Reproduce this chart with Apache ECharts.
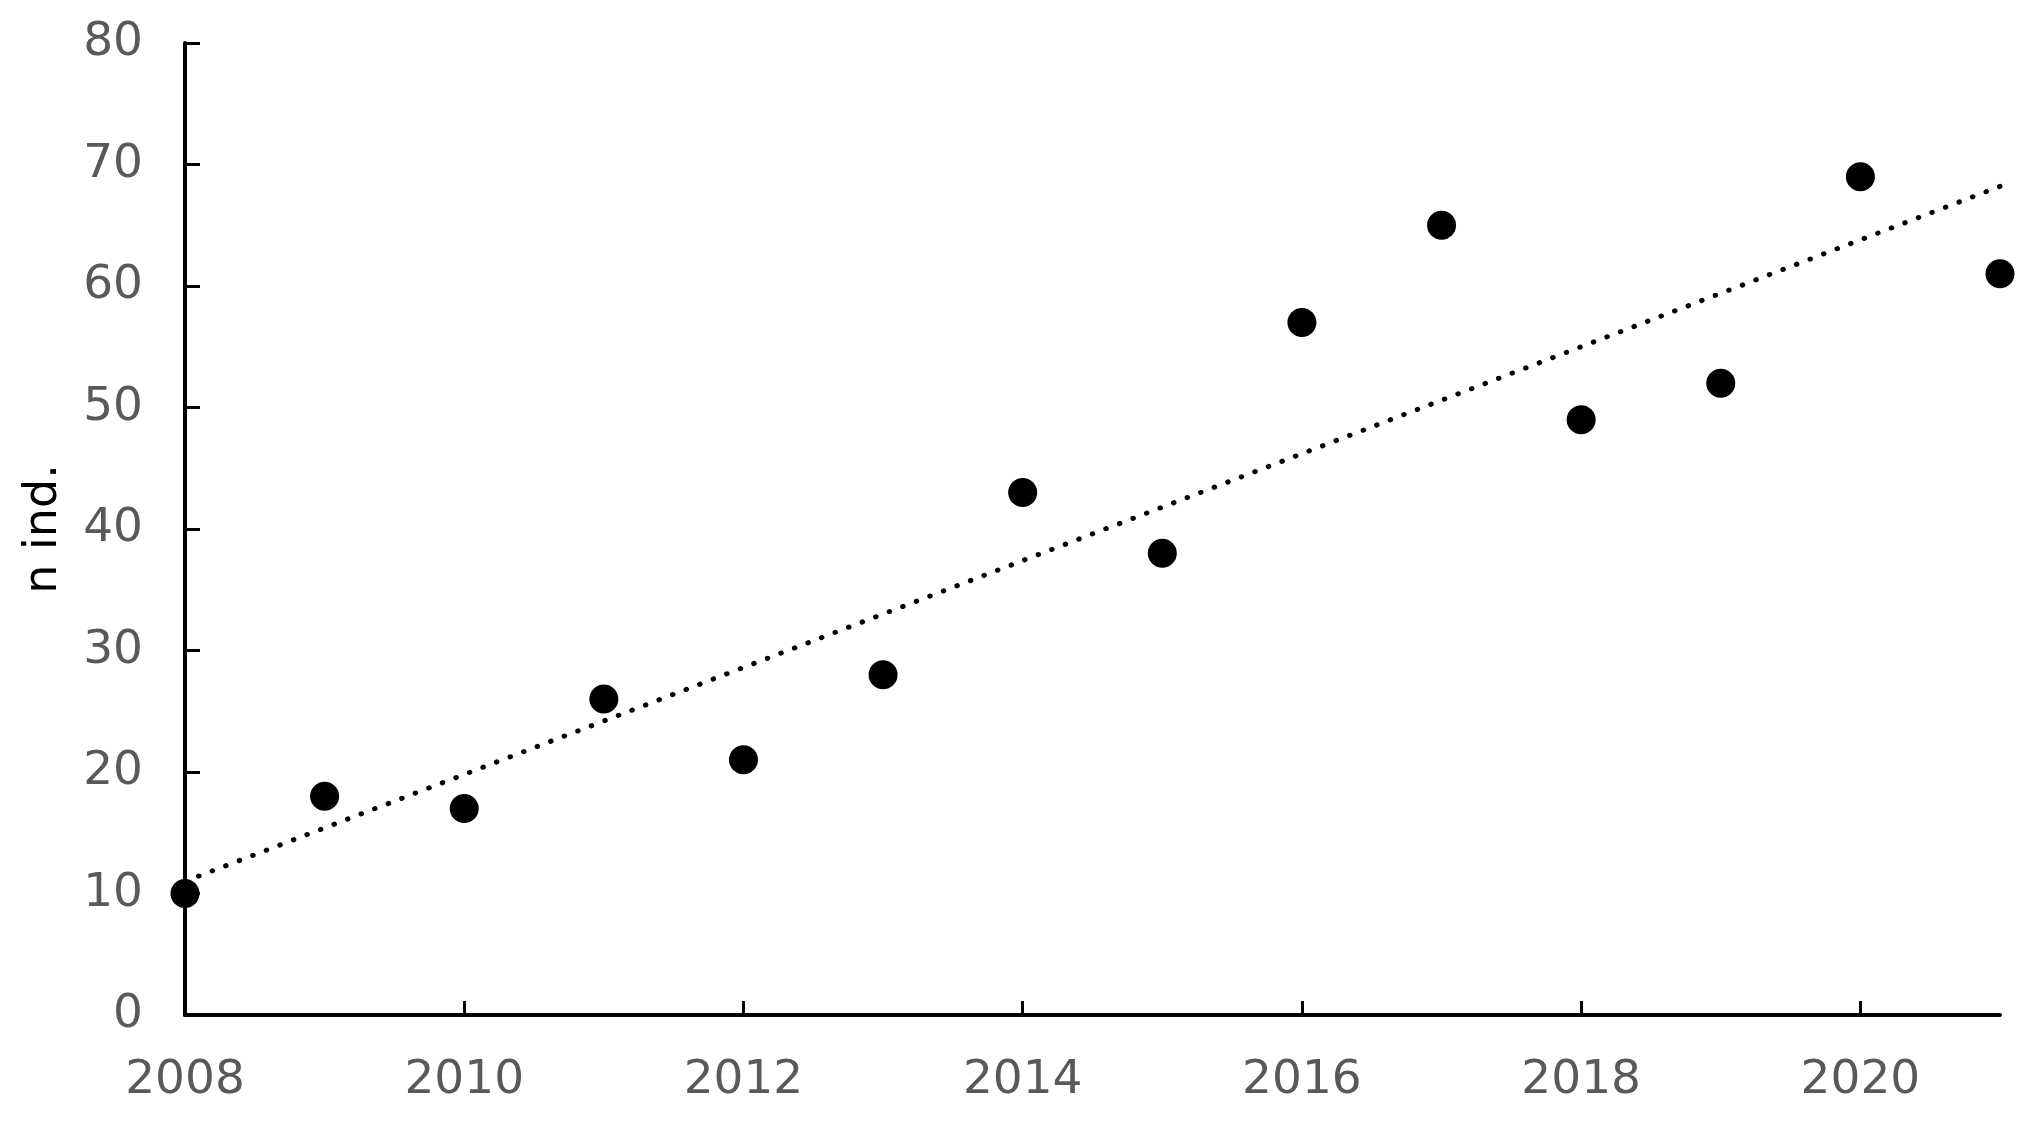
<!DOCTYPE html>
<html>
<head>
<meta charset="utf-8">
<script src="https://cdn.jsdelivr.net/npm/echarts@6/dist/echarts.min.js"></script>
<style>
  html, body { margin: 0; padding: 0; background: #fff; }
  #chart { width: 2030px; height: 1130px; }
</style>
</head>
<body>
<div id="chart"></div>
<script>
// yearly counts
var years = [2008, 2009, 2010, 2011, 2012, 2013, 2014, 2015, 2016, 2017, 2018, 2019, 2020, 2021];
var counts = [10, 18, 17, 26, 21, 28, 43, 38, 57, 65, 49, 52, 69, 61];
// linear trendline ends, as drawn in the figure
var trendYears = [2008, 2021];
var trendValues = [11.0, 68.2];
var xTicks = [2008, 2010, 2012, 2014, 2016, 2018, 2020];

var points = years.map(function (y, i) { return [y, counts[i]]; });
var trend = trendYears.map(function (y, i) { return [y, trendValues[i]]; });

var myChart = echarts.init(document.getElementById('chart'));
myChart.setOption({
  animation: false,
  grid: { left: 185, right: 30, top: 43, bottom: 115 },
  xAxis: {
    type: 'value',
    min: 2008,
    max: 2021,
    interval: 1,
    axisLine: { lineStyle: { color: '#000', width: 4 } },
    axisTick: { inside: true, length: 14, customValues: xTicks, lineStyle: { color: '#000', width: 3 } },
    axisLabel: {
      customValues: xTicks,
      formatter: function (v) { return String(v); },
      color: '#595959', fontSize: 47, fontFamily: 'DejaVu Sans', margin: 42
    },
    splitLine: { show: false }
  },
  yAxis: {
    type: 'value',
    min: 0,
    max: 80,
    interval: 10,
    name: 'n ind.',
    nameLocation: 'middle',
    nameRotate: 90,
    nameGap: 118,
    nameTextStyle: { color: '#000', fontSize: 46, fontFamily: 'DejaVu Sans' },
    axisLine: { show: true, lineStyle: { color: '#000', width: 4 } },
    axisTick: { show: true, inside: true, length: 15, lineStyle: { color: '#000', width: 3 } },
    axisLabel: { color: '#595959', fontSize: 47, fontFamily: 'DejaVu Sans', margin: 42 },
    splitLine: { show: false }
  },
  series: [
    {
      type: 'line',
      data: trend,
      symbol: 'none',
      lineStyle: { color: '#000', width: 5, type: [0.5, 14], cap: 'round' },
      silent: true,
      z: 1
    },
    {
      type: 'scatter',
      data: points,
      symbolSize: 29,
      itemStyle: { color: '#000', opacity: 1 },
      z: 2
    }
  ]
});
</script>
</body>
</html>
